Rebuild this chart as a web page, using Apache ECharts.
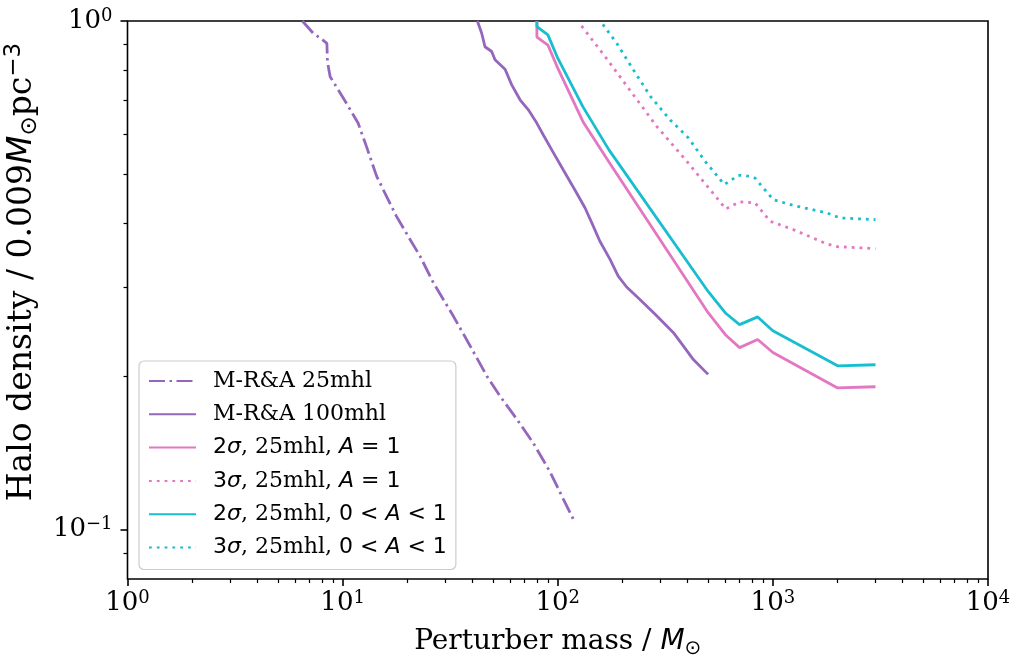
<!DOCTYPE html>
<html>
<head>
<meta charset="utf-8">
<script src="https://cdn.jsdelivr.net/npm/echarts@6/dist/echarts.min.js"></script>
<style>
html, body { margin: 0; padding: 0; background: #fff; }
#main { width: 1013px; height: 660px; }
</style>
</head>
<body>
<div id="main"></div>
<script>
// values (mass in Msun, density in units of 0.009 Msun/pc^3)
var massMRA25 = [6.5, 7.3, 8.0, 8.45, 8.5, 8.75, 9.55, 10.4, 11.8, 12.9, 14.4, 16.0, 17.8, 20.2, 22.9, 26.4, 32.7, 39.1, 46.8, 53.9, 64.5, 77, 92, 106, 118];
var densMRA25 = [1.0, 0.946, 0.921, 0.904, 0.832, 0.777, 0.732, 0.690, 0.630, 0.567, 0.495, 0.452, 0.413, 0.377, 0.345, 0.306, 0.263, 0.230, 0.2005, 0.183, 0.165, 0.148, 0.130, 0.115, 0.105];

var massMRA100 = [42.3, 44.3, 45.9, 49.3, 51.1, 56.9, 61.1, 66.8, 73.0, 79.9, 85.7, 93.8, 106, 120, 134, 144, 157, 175, 191, 209, 241, 289, 345, 384, 427, 500];
var densMRA100 = [1.0, 0.946, 0.890, 0.871, 0.839, 0.804, 0.749, 0.700, 0.669, 0.630, 0.597, 0.558, 0.510, 0.466, 0.429, 0.401, 0.369, 0.340, 0.315, 0.300, 0.2836, 0.263, 0.244, 0.2296, 0.216, 0.202];

var mass2sA1 = [80, 80, 90, 100, 131, 173, 500, 600, 700, 850, 1000, 2000, 3000];
var dens2sA1 = [1.0, 0.93, 0.897, 0.808, 0.634, 0.528, 0.267, 0.242, 0.228, 0.2366, 0.223, 0.190, 0.191];

var mass3sA1 = [129, 166, 213, 289, 398, 549, 604, 700, 827, 903, 970, 1245, 1781, 2000, 3000];
var dens3sA1 = [0.978, 0.851, 0.738, 0.620, 0.530, 0.449, 0.427, 0.441, 0.439, 0.4195, 0.404, 0.389, 0.3646, 0.360, 0.357];

var mass2sA01 = [80, 80, 90, 100, 131, 173, 500, 600, 700, 850, 1000, 2000, 3000];
var dens2sA01 = [1.0, 0.975, 0.939, 0.845, 0.678, 0.558, 0.294, 0.267, 0.253, 0.262, 0.246, 0.210, 0.211];

var mass3sA01 = [162, 188, 225, 269, 333, 405, 484, 595, 691, 743, 827, 903, 1005, 1245, 1781, 2053, 3000];
var dens3sA01 = [0.985, 0.904, 0.801, 0.712, 0.639, 0.589, 0.530, 0.477, 0.497, 0.497, 0.491, 0.4695, 0.4454, 0.434, 0.4195, 0.410, 0.407];

// tick positions
var xTicks = [1, 10, 100, 1000, 10000];
var xMinorTicks = [2, 3, 4, 5, 6, 7, 8, 9, 20, 30, 40, 50, 60, 70, 80, 90, 200, 300, 400, 500, 600, 700, 800, 900, 2000, 3000, 4000, 5000, 6000, 7000, 8000, 9000];
var yTicks = [0.1, 1];
var yMinorTicks = [0.09, 0.2, 0.3, 0.4, 0.5, 0.6, 0.7, 0.8, 0.9];

var PURPLE = '#9467bd';
var PINK = '#e377c2';
var CYAN = '#17becf';
var SERIF = 'DejaVu Serif';
var SANS = 'DejaVu Sans';

function pairs(xs, ys) {
  return xs.map(function (x, i) { return [x, ys[i]]; });
}

// 10^n tick labels
function powLabel(v) {
  var e = Math.round(Math.log10(v));
  return '{b|10}{s|' + (e < 0 ? '\u2212' + (-e) : e) + '}';
}

var tickRich = {
  b: { fontFamily: SERIF, fontSize: 26, lineHeight: 28, color: '#000' },
  s: { fontFamily: SERIF, fontSize: 18, lineHeight: 8, verticalAlign: 'top', color: '#000' }
};

function nameRich(size) {
  return {
    r: { fontFamily: SERIF, fontSize: size, lineHeight: size + 6, color: '#000' },
    mi: { fontFamily: SANS, fontStyle: 'italic', fontSize: size, lineHeight: size + 6, color: '#000' },
    sub: { fontFamily: SANS, fontSize: Math.round(size * 0.7), lineHeight: Math.round(size * 0.5), verticalAlign: 'bottom', color: '#000' },
    sup: { fontFamily: SANS, fontSize: Math.round(size * 0.7), lineHeight: Math.round(size * 0.35), verticalAlign: 'top', color: '#000' }
  };
}

var legendRich = {
  r: { fontFamily: SERIF, fontSize: 22, lineHeight: 24, color: '#000' },
  m: { fontFamily: SANS, fontSize: 22, lineHeight: 24, color: '#000' },
  mi: { fontFamily: SANS, fontStyle: 'italic', fontSize: 22, lineHeight: 24, color: '#000' }
};

var legendText = {
  'M-R&A 25mhl': '{r|M-R&A 25mhl}',
  'M-R&A 100mhl': '{r|M-R&A 100mhl}',
  '2σ, 25mhl, A = 1': '{m|2}{mi|σ}{r|, 25mhl, }{mi|A}{m| = 1}',
  '3σ, 25mhl, A = 1': '{m|3}{mi|σ}{r|, 25mhl, }{mi|A}{m| = 1}',
  '2σ, 25mhl, 0 < A < 1': '{m|2}{mi|σ}{r|, 25mhl, }{m|0 < }{mi|A}{m| < 1}',
  '3σ, 25mhl, 0 < A < 1': '{m|3}{mi|σ}{r|, 25mhl, }{m|0 < }{mi|A}{m| < 1}'
};

function lineSeries(name, xs, ys, color, type) {
  return {
    name: name,
    type: 'line',
    data: pairs(xs, ys),
    symbol: 'none',
    showSymbol: false,
    clip: true,
    itemStyle: { color: color },
    lineStyle: { color: color, width: 2.8, type: type, cap: 'butt' }
  };
}

var chart = echarts.init(document.getElementById('main'), null, { renderer: 'canvas' });

var option = {
  animation: false,
  backgroundColor: '#fff',
  grid: {
    left: 127.5, right: 25, top: 21, bottom: 81,
    containLabel: false, outerBoundsMode: 'none',
    show: true, borderColor: '#000', borderWidth: 1.6, backgroundColor: 'transparent'
  },
  legend: {
    orient: 'vertical',
    left: 139, top: 361,
    padding: [9, 9, 11, 9],
    itemWidth: 47, itemHeight: 14, itemGap: 11.3,
    backgroundColor: 'rgba(255,255,255,0.8)',
    borderColor: '#cccccc', borderWidth: 1.2, borderRadius: 5,
    itemStyle: { opacity: 0 },
    textStyle: { rich: legendRich, padding: [0, 0, 0, 12] },
    formatter: function (name) { return legendText[name]; },
    data: ['M-R&A 25mhl', 'M-R&A 100mhl', '2σ, 25mhl, A = 1', '3σ, 25mhl, A = 1', '2σ, 25mhl, 0 < A < 1', '3σ, 25mhl, 0 < A < 1']
  },
  xAxis: [
    {
      type: 'log', logBase: 10, min: 1, max: 10000,
      name: '{r|Perturber mass / }{mi|M}{sub|\u2299}',
      nameLocation: 'middle', nameGap: 46,
      nameTextStyle: { rich: nameRich(28) },
      axisLine: { show: false },
      splitLine: { show: false },
      axisTick: { customValues: xTicks, length: 7, lineStyle: { color: '#000', width: 1.6 } },
      axisLabel: { customValues: xTicks, margin: 10, formatter: powLabel, rich: tickRich }
    },
    {
      type: 'log', logBase: 10, min: 1, max: 10000, position: 'bottom',
      axisLine: { show: false },
      splitLine: { show: false },
      axisLabel: { show: false },
      axisTick: { customValues: xMinorTicks, length: 4, lineStyle: { color: '#000', width: 1.2 } }
    }
  ],
  yAxis: [
    {
      type: 'log', logBase: 10, min: 0.08, max: 1,
      name: '{r|Halo density / 0.009}{mi|M}{sub|\u2299}{r|pc}{sup|\u22123}',
      nameLocation: 'middle', nameGap: 76, nameRotate: 90,
      nameTextStyle: { rich: nameRich(33), padding: [0, 0, 0, 56] },
      axisLine: { show: false },
      splitLine: { show: false },
      axisTick: { customValues: yTicks, length: 7, lineStyle: { color: '#000', width: 1.6 } },
      axisLabel: { customValues: yTicks, margin: 15, formatter: powLabel, rich: tickRich }
    },
    {
      type: 'log', logBase: 10, min: 0.08, max: 1, position: 'left',
      axisLine: { show: false },
      splitLine: { show: false },
      axisLabel: { show: false },
      axisTick: { customValues: yMinorTicks, length: 4, lineStyle: { color: '#000', width: 1.2 } }
    }
  ],
  series: [
    lineSeries('M-R&A 25mhl', massMRA25, densMRA25, PURPLE, [16, 4.5, 2.5, 4.5]),
    lineSeries('M-R&A 100mhl', massMRA100, densMRA100, PURPLE, 'solid'),
    lineSeries('2σ, 25mhl, A = 1', mass2sA1, dens2sA1, PINK, 'solid'),
    lineSeries('3σ, 25mhl, A = 1', mass3sA1, dens3sA1, PINK, [2.8, 5]),
    lineSeries('2σ, 25mhl, 0 < A < 1', mass2sA01, dens2sA01, CYAN, 'solid'),
    lineSeries('3σ, 25mhl, 0 < A < 1', mass3sA01, dens3sA01, CYAN, [2.8, 5])
  ]
};

chart.setOption(option);
</script>
</body>
</html>
